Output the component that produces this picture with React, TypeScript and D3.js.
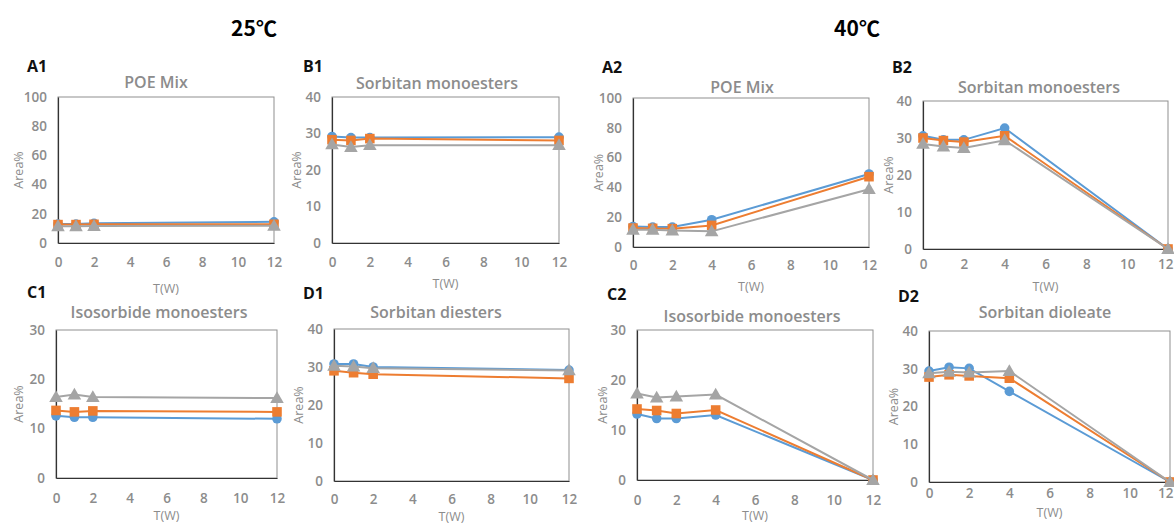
import React, { useRef, useEffect } from "react";
import {
  select,
  scaleLinear,
  axisLeft,
  axisBottom,
  line,
  symbol,
  symbolCircle,
  symbolSquare,
  symbolTriangle,
  range,
} from "d3";

const WIDTH = 1174;
const HEIGHT = 526;
const COLORS = ["#5B9BD5", "#ED7D31", "#A5A5A5"];
const SHAPES = [symbolCircle, symbolSquare, symbolTriangle];
const SHAPE_SIZE = [72, 92, 80];
const COLOR_TEXT = "#8c8c8c";
const COLOR_BOX = "#8f8f8f";
const COLOR_AXIS = "#333333";
const FONT = "'Open Sans', 'Noto Sans', sans-serif";

// weeks of storage
const WEEKS_25 = [0, 1, 2, 12];
const WEEKS_40 = [0, 1, 2, 4, 12];
const X_TICKS = [0, 2, 4, 6, 8, 10, 12];
const HEADERS = ["25℃", "40℃"];

// 25℃
const A1_BLUE = [13, 13, 13.5, 14.5];
const A1_ORANGE = [12.6, 12.6, 12.8, 12.8];
const A1_GRAY = [11.5, 11.5, 11.6, 11.8];

const B1_BLUE = [29.2, 28.9, 28.9, 29];
const B1_ORANGE = [28.3, 28.1, 28.6, 28.1];
const B1_GRAY = [27, 26.3, 26.8, 26.8];

const C1_BLUE = [12.6, 12.3, 12.3, 12];
const C1_ORANGE = [13.7, 13.4, 13.6, 13.4];
const C1_GRAY = [16.4, 16.9, 16.4, 16.2];

const D1_BLUE = [30.8, 30.8, 30, 29.2];
const D1_ORANGE = [29, 28.5, 28.1, 27];
const D1_GRAY = [30.3, 30.1, 29.7, 29.1];

// 40℃
const A2_BLUE = [13.8, 13.4, 13.4, 18.3, 49];
const A2_ORANGE = [12.7, 12.5, 12.3, 14.5, 47.2];
const A2_GRAY = [11.6, 11.6, 11.1, 10.5, 38.8];

const B2_BLUE = [30.6, 29.5, 29.5, 32.7, 0];
const B2_ORANGE = [30, 29.3, 28.9, 30.6, 0];
const B2_GRAY = [28.4, 27.7, 27.3, 29.4, 0];

const C2_BLUE = [13.2, 12.3, 12.3, 13, 0];
const C2_ORANGE = [14.2, 13.9, 13.3, 14, 0];
const C2_GRAY = [17.3, 16.5, 16.7, 17.1, 0];

const D2_BLUE = [29.4, 30.4, 30.1, 24, 0];
const D2_ORANGE = [27.8, 28.4, 28.1, 27.5, 0];
const D2_GRAY = [28.8, 29.2, 29, 29.4, 0];

const PANELS = [
  { label: "A1", title: "POE Mix", weeks: WEEKS_25, series: [A1_BLUE, A1_ORANGE, A1_GRAY], yMax: 100, yStep: 20 },
  { label: "B1", title: "Sorbitan monoesters", weeks: WEEKS_25, series: [B1_BLUE, B1_ORANGE, B1_GRAY], yMax: 40, yStep: 10 },
  { label: "C1", title: "Isosorbide monoesters", weeks: WEEKS_25, series: [C1_BLUE, C1_ORANGE, C1_GRAY], yMax: 30, yStep: 10 },
  { label: "D1", title: "Sorbitan diesters", weeks: WEEKS_25, series: [D1_BLUE, D1_ORANGE, D1_GRAY], yMax: 40, yStep: 10 },
  { label: "A2", title: "POE Mix", weeks: WEEKS_40, series: [A2_BLUE, A2_ORANGE, A2_GRAY], yMax: 100, yStep: 20 },
  { label: "B2", title: "Sorbitan monoesters", weeks: WEEKS_40, series: [B2_BLUE, B2_ORANGE, B2_GRAY], yMax: 40, yStep: 10 },
  { label: "C2", title: "Isosorbide monoesters", weeks: WEEKS_40, series: [C2_BLUE, C2_ORANGE, C2_GRAY], yMax: 30, yStep: 10 },
  { label: "D2", title: "Sorbitan dioleate", weeks: WEEKS_40, series: [D2_BLUE, D2_ORANGE, D2_GRAY], yMax: 40, yStep: 10 },
];

// plot box, title / label / axis-title placement per panel
const LAYOUT = {
  A1: { l: 58, t: 97, r: 274, b: 243, titleX: 156, titleY: 88, labX: 27, labY: 72, yTitleX: 19, tickY: 267, twY: 289 },
  B1: { l: 332, t: 97, r: 559, b: 243, titleX: 437, titleY: 89, labX: 303, labY: 72, yTitleX: 297, tickY: 267, twY: 284 },
  C1: { l: 56, t: 330, r: 277, b: 478, titleX: 159, titleY: 318, labX: 27, labY: 298, yTitleX: 19, tickY: 503, twY: 516 },
  D1: { l: 334, t: 329, r: 569, b: 481, titleX: 436, titleY: 318, labX: 303, labY: 299, yTitleX: 299, tickY: 504, twY: 517 },
  A2: { l: 633, t: 98, r: 869, b: 247, titleX: 742, titleY: 93, labX: 602, labY: 73, yTitleX: 599, tickY: 270, twY: 287 },
  B2: { l: 923, t: 101, r: 1168, b: 249, titleX: 1039, titleY: 93, labX: 892, labY: 73, yTitleX: 889, tickY: 269, twY: 287 },
  C2: { l: 637, t: 330, r: 873, b: 480, titleX: 752, titleY: 322, labX: 607, labY: 300, yTitleX: 603, tickY: 505, twY: 516 },
  D2: { l: 929, t: 331, r: 1170, b: 482, titleX: 1045, titleY: 318, labX: 898, labY: 302, yTitleX: 894, tickY: 498, twY: 513 },
};

const styleTicks = (sel) =>
  sel
    .attr("fill", COLOR_TEXT)
    .style("font-family", FONT)
    .style("font-size", "13.5px")
    .style("font-weight", 600);

const drawPanel = (svg, panel) => {
  const lay = LAYOUT[panel.label];
  const g = svg.append("g");

  const x = scaleLinear().domain([0, 12]).range([lay.l, lay.r]);
  const y = scaleLinear().domain([0, panel.yMax]).range([lay.b, lay.t]);

  g.append("rect")
    .attr("x", lay.l)
    .attr("y", lay.t)
    .attr("width", lay.r - lay.l)
    .attr("height", lay.b - lay.t)
    .attr("fill", "none")
    .attr("stroke", COLOR_BOX)
    .attr("stroke-width", 1);

  const yTicks = range(0, panel.yMax + 0.001, panel.yStep);
  g.append("g")
    .attr("transform", `translate(${lay.l},0)`)
    .call(axisLeft(y).tickValues(yTicks).tickSize(0).tickPadding(11).tickFormat((d) => String(d)))
    .call((a) => {
      a.select(".domain").attr("stroke", COLOR_AXIS).attr("stroke-width", 1.2);
      a.selectAll("text").call(styleTicks);
    });

  g.append("g")
    .attr("transform", `translate(0,${lay.b})`)
    .call(axisBottom(x).tickValues(X_TICKS).tickSize(0).tickPadding(0).tickFormat((d) => String(d)))
    .call((a) => {
      a.select(".domain").attr("stroke", COLOR_AXIS).attr("stroke-width", 1.2);
      a.selectAll("text")
        .attr("y", lay.tickY - lay.b)
        .attr("dy", null)
        .call(styleTicks);
      // keep the last label inside the page at the right edge
      if (lay.r > WIDTH - 12) {
        a.selectAll(".tick")
          .filter((d) => d === 12)
          .select("text")
          .attr("x", WIDTH - 1 - lay.r)
          .attr("text-anchor", "end");
      }
    });

  // series: line then markers
  panel.series.forEach((values, i) => {
    const pts = values.map((v, k) => [panel.weeks[k], v]);
    g.append("path")
      .datum(pts)
      .attr("fill", "none")
      .attr("stroke", COLORS[i])
      .attr("stroke-width", 2)
      .attr("d", line().x((d) => x(d[0])).y((d) => y(d[1])));

    g.selectAll(null)
      .data(pts)
      .enter()
      .append("path")
      .attr("transform", (d) => `translate(${x(d[0])},${y(d[1]) + (i === 2 ? 1 : 0)})`)
      .attr("d", symbol().type(SHAPES[i]).size(SHAPE_SIZE[i]))
      .attr("fill", COLORS[i]);
  });

  g.append("text")
    .attr("x", lay.titleX)
    .attr("y", lay.titleY)
    .attr("text-anchor", "middle")
    .attr("fill", COLOR_TEXT)
    .style("font-family", FONT)
    .style("font-size", "16px")
    .style("font-weight", 600)
    .text(panel.title);

  g.append("text")
    .attr("x", lay.labX)
    .attr("y", lay.labY)
    .attr("fill", "#111")
    .style("font-family", FONT)
    .style("font-size", "16px")
    .style("font-weight", 700)
    .text(panel.label);

  const yMid = (lay.t + lay.b) / 2;
  g.append("text")
    .attr("transform", `translate(${lay.yTitleX + 4},${yMid}) rotate(-90)`)
    .attr("text-anchor", "middle")
    .attr("fill", COLOR_TEXT)
    .style("font-family", FONT)
    .style("font-size", "12.5px")
    .text("Area%");

  g.append("text")
    .attr("x", (lay.l + lay.r) / 2)
    .attr("y", lay.twY + 4)
    .attr("text-anchor", "middle")
    .attr("fill", COLOR_TEXT)
    .style("font-family", FONT)
    .style("font-size", "12.5px")
    .text("T(W)");
};

export default function App() {
  const ref = useRef<SVGSVGElement>(null);

  useEffect(() => {
    const svg = select(ref.current);
    svg.selectAll("*").remove();

    svg.append("rect").attr("width", WIDTH).attr("height", HEIGHT).attr("fill", "#fff");

    svg
      .selectAll("text.header")
      .data(HEADERS)
      .enter()
      .append("text")
      .attr("class", "header")
      .attr("x", (d, i) => (i === 0 ? 254 : 857))
      .attr("y", 36)
      .attr("text-anchor", "middle")
      .attr("fill", "#000")
      .style("font-family", "'Noto Sans CJK SC', 'Open Sans', sans-serif")
      .style("font-size", "21px")
      .style("font-weight", 700)
      .text((d) => d);

    PANELS.forEach((p) => drawPanel(svg, p));
  }, []);

  return (
    <svg
      ref={ref}
      width={WIDTH}
      height={HEIGHT}
      style={{ position: "absolute", left: 0, top: 0 }}
    />
  );
}
